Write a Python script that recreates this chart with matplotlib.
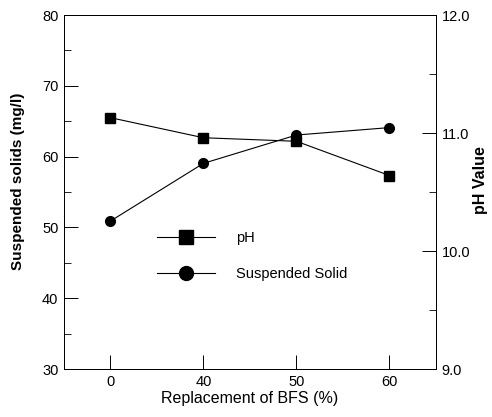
import matplotlib
matplotlib.use("Agg")
import matplotlib.pyplot as plt
from matplotlib.lines import Line2D
from matplotlib.ticker import MultipleLocator, FormatStrFormatter

plt.rcParams['font.family'] = ['Liberation Sans', 'DejaVu Sans']

categories = ["0", "40", "50", "60"]
suspended_solids = [50.9, 59.05, 63.05, 64.1]
ph_values = [11.13, 10.96, 10.93, 10.64]

fig = plt.figure(figsize=(4.92, 4.17), dpi=100)
ax = fig.add_axes([0.130, 0.115, 0.756, 0.849])
ax2 = ax.twinx()

x = list(range(len(categories)))
ax.plot(x, suspended_solids, color='black', lw=0.8, marker='o', ms=7)
ax2.plot(x, ph_values, color='black', lw=0.8, marker='s', ms=7)

ax.set_xlim(-0.5, 3.5)
ax.set_ylim(30, 80)
ax2.set_ylim(9.0, 12.0)
ax.set_xticks(x)
ax.set_xticklabels(categories)
ax.yaxis.set_major_locator(MultipleLocator(10))
ax.yaxis.set_minor_locator(MultipleLocator(5))
ax2.yaxis.set_major_locator(MultipleLocator(1.0))
ax2.yaxis.set_minor_locator(MultipleLocator(0.5))
ax2.yaxis.set_major_formatter(FormatStrFormatter('%.1f'))

ax.tick_params(axis='both', which='major', direction='in', length=10, width=0.7, labelsize=10.5, pad=4)
ax.tick_params(axis='y', which='minor', direction='in', length=5, width=0.6)
ax2.tick_params(axis='y', which='major', direction='in', length=10, width=0.7, labelsize=10.5, pad=4)
ax2.tick_params(axis='y', which='minor', direction='in', length=5, width=0.6)
for a in (ax, ax2):
    for s in a.spines.values():
        s.set_linewidth(0.7)

ax.set_xlabel("Replacement of BFS (%)", fontsize=11.5, labelpad=2)
ax.set_ylabel("Suspended solids (mg/l)", fontsize=11, fontweight='bold')
ax.yaxis.set_label_coords(-0.105, 0.53)
ax2.set_ylabel("pH Value", fontsize=11.5, fontweight='bold', rotation=90)
ax2.yaxis.set_label_coords(1.10, 0.535)

handles = [
    Line2D([], [], color='black', lw=0.8, marker='s', ms=10.5),
    Line2D([], [], color='black', lw=0.8, marker='o', ms=10),
]
ax.legend(handles, ["pH", "Suspended Solid"], loc='upper left',
          bbox_to_anchor=(0.25, 0.39), frameon=False, fontsize=10.5,
          borderpad=0, borderaxespad=0,
          handlelength=4.0, handletextpad=1.4, labelspacing=1.5)

fig.savefig("out.png", dpi=100)
